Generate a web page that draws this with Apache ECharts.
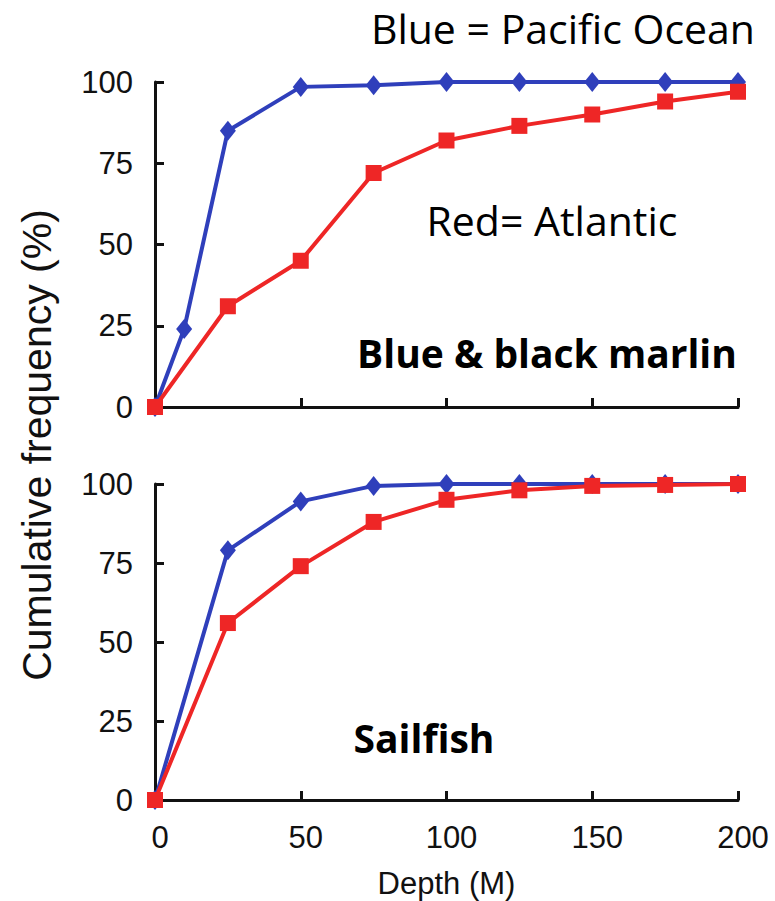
<!DOCTYPE html>
<html>
<head>
<meta charset="utf-8">
<style>
  html, body { margin: 0; padding: 0; background: #ffffff; }
  #chart { width: 775px; height: 901px; }
</style>
<script src="https://cdn.jsdelivr.net/npm/echarts@6/dist/echarts.min.js"></script>
</head>
<body>
<div id="chart"></div>
<script>
// ---- Data ----
const xTicks = [0, 50, 100, 150, 200];
const yTicks = [0, 25, 50, 75, 100];

// Blue & black marlin panel
const marlinPacificDepth = [0, 10, 25, 50, 75, 100, 125, 150, 175, 200];
const marlinPacific      = [0, 24, 85, 98.5, 99, 100, 100, 100, 100, 100];
const marlinAtlanticDepth = [0, 25, 50, 75, 100, 125, 150, 175, 200];
const marlinAtlantic      = [0, 31, 45, 72, 82, 86.5, 90, 94, 97];

// Sailfish panel
const sailPacificDepth = [0, 25, 50, 75, 100, 125, 150, 175, 200];
const sailPacific      = [0, 79, 94.5, 99.4, 100, 100, 100, 100, 100];
const sailAtlanticDepth = [0, 25, 50, 75, 100, 125, 150, 175, 200];
const sailAtlantic      = [0, 56, 74, 88, 95, 98, 99.4, 99.7, 100];

const pairs = (xs, ys) => xs.map((x, i) => [x, ys[i]]);

const BLUE = '#2f3fbb';
const RED = '#ee2626';
const AX = '#111111';
const SANS = "'Liberation Sans', Arial, sans-serif";
const CAL = "'Open Sans', sans-serif";

function xAxisCfg(gridIndex, showLabels) {
  return {
    type: 'value', gridIndex, min: 0, max: 200, interval: 50,
    axisLine: { show: true, lineStyle: { color: AX, width: 3 } },
    axisTick: { show: true, inside: true, length: 9, lineStyle: { color: AX, width: 3 } },
    splitLine: { show: false },
    axisLabel: {
      show: showLabels, fontSize: 31, color: '#111', margin: 22,
      fontFamily: SANS, padding: [0, 0, 0, 10],
      customValues: xTicks
    },
    name: showLabels ? 'Depth (M)' : '',
    nameLocation: 'middle', nameGap: 68,
    nameTextStyle: { fontSize: 31, color: '#111', fontFamily: SANS }
  };
}
function yAxisCfg(gridIndex) {
  return {
    type: 'value', gridIndex, min: 0, max: 100, interval: 25,
    axisLine: { show: true, lineStyle: { color: AX, width: 3 } },
    axisTick: { show: true, inside: true, length: 9, lineStyle: { color: AX, width: 3 } },
    splitLine: { show: false },
    axisLabel: {
      fontSize: 31, color: '#111', margin: 22,
      fontFamily: SANS,
      customValues: yTicks
    }
  };
}
function lineSeries(name, xi, data, color, symbol, size) {
  return {
    type: 'line', name, xAxisIndex: xi, yAxisIndex: xi,
    data, symbol, symbolSize: size, showSymbol: true,
    lineStyle: { color, width: 4 },
    itemStyle: { color },
    z: symbol === 'rect' ? 3 : 2,
    animation: false
  };
}

const chart = echarts.init(document.getElementById('chart'), null, { renderer: 'svg' });
chart.setOption({
  backgroundColor: '#ffffff',
  animation: false,
  grid: [
    { left: 155, top: 82, width: 583, height: 325 },
    { left: 155, top: 484, width: 583, height: 316 }
  ],
  xAxis: [xAxisCfg(0, false), xAxisCfg(1, true)],
  yAxis: [yAxisCfg(0), yAxisCfg(1)],
  series: [
    lineSeries('Pacific', 0, pairs(marlinPacificDepth, marlinPacific), BLUE, 'diamond', [16, 20]),
    lineSeries('Atlantic', 0, pairs(marlinAtlanticDepth, marlinAtlantic), RED, 'rect', 16),
    lineSeries('Pacific', 1, pairs(sailPacificDepth, sailPacific), BLUE, 'diamond', [16, 20]),
    lineSeries('Atlantic', 1, pairs(sailAtlanticDepth, sailAtlantic), RED, 'rect', 16)
  ],
  graphic: [
    { type: 'text', x: 37, y: 445, rotation: Math.PI / 2,
      style: { text: 'Cumulative frequency (%)', fontSize: 41, fill: '#111',
               fontFamily: SANS, align: 'center', verticalAlign: 'middle' } },
    { type: 'text', x: 755, y: 28,
      style: { text: 'Blue = Pacific Ocean', fontSize: 41, fill: '#000',
               fontFamily: CAL, align: 'right', verticalAlign: 'middle' } },
    { type: 'text', x: 552, y: 220,
      style: { text: 'Red= Atlantic', fontSize: 41, fill: '#000',
               fontFamily: CAL, align: 'center', verticalAlign: 'middle' } },
    { type: 'text', x: 547, y: 352,
      style: { text: 'Blue & black marlin', fontSize: 39, fontWeight: 'bold', fill: '#000',
               fontFamily: CAL, align: 'center', verticalAlign: 'middle' } },
    { type: 'text', x: 424, y: 737,
      style: { text: 'Sailfish', fontSize: 39, fontWeight: 'bold', fill: '#000',
               fontFamily: CAL, align: 'center', verticalAlign: 'middle' } }
  ]
});
</script>
</body>
</html>
